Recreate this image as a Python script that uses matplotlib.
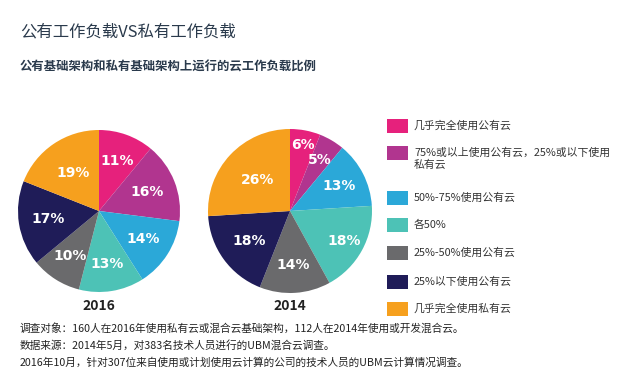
import numpy as np
import matplotlib
matplotlib.use("Agg")
import matplotlib.pyplot as plt

plt.rcParams['font.family'] = ['Noto Sans CJK SC', 'DejaVu Sans']

# data
categories = ["几乎完全使用公有云", "75%或以上使用公有云，25%或以下使用\n私有云", "50%-75%使用公有云",
              "各50%", "25%-50%使用公有云", "25%以下使用公有云", "几乎完全使用私有云"]
colors = ["#E6217C", "#B1358F", "#2BA8D8", "#4DC2B6", "#6A6A6C", "#1F1C58", "#F6A01E"]
vals_2016 = [11, 16, 14, 13, 10, 17, 19]
vals_2014 = [6, 5, 13, 18, 14, 18, 26]
years = ["2016", "2014"]

title = "公有工作负载VS私有工作负载"
subtitle = "公有基础架构和私有基础架构上运行的云工作负载比例"
notes = ["调查对象：160人在2016年使用私有云或混合云基础架构，112人在2014年使用或开发混合云。",
         "数据来源：2014年5月，对383名技术人员进行的UBM混合云调查。",
         "2016年10月，针对307位来自使用或计划使用云计算的公司的技术人员的UBM云计算情况调查。"]

W, H = 640, 388
fig = plt.figure(figsize=(W / 100, H / 100), dpi=100)
ax = fig.add_axes([0, 0, 1, 1])

def draw_pie(vals, cx, cy, r, label_dist):
    ax.pie(vals, colors=colors, startangle=90, counterclock=False,
           center=(cx, H - cy), radius=r, wedgeprops=dict(linewidth=0))
    start = 90.0
    for v, d in zip(vals, label_dist):
        mid = np.deg2rad(start - v * 3.6 / 2)
        start -= v * 3.6
        ax.text(cx + d * r * np.cos(mid), H - cy + d * r * np.sin(mid), f"{v}%",
                ha='center', va='center', color='white', fontsize=10,
                fontweight='bold', family=['Liberation Sans Narrow', 'DejaVu Sans'])

draw_pie(vals_2016, 99, 211, 81, [0.66, 0.64, 0.64, 0.66, 0.66, 0.63, 0.57])
draw_pie(vals_2014, 290, 211, 82, [0.82, 0.72, 0.67, 0.76, 0.66, 0.62, 0.55])

ax.text(99, H - 306, years[0], ha='center', va='center', fontsize=10, fontweight='bold', color='#222222')
ax.text(290, H - 306, years[1], ha='center', va='center', fontsize=10, fontweight='bold', color='#222222')

# legend
leg_y = [126, 153, 198, 225, 253, 282, 309]
for c, lab, y in zip(colors, categories, leg_y):
    ax.add_patch(plt.Rectangle((387, H - y - 7), 21, 14, color=c, lw=0))
    ax.text(414, H - y + 5.5, lab, ha='left', va='top', fontsize=7.8, color='#333333',
            linespacing=1.2)

ax.text(20, H - 32, title, ha='left', va='center', fontsize=11.8, color='#2a3a4c')
ax.text(20, H - 67, subtitle, ha='left', va='center', fontsize=8.9, fontweight='bold', color='#2a3a4c')
for i, n in enumerate(notes):
    ax.text(20, H - 328 - i * 17.5, n, ha='left', va='center', fontsize=7.7, color='#222222')

ax.set_xlim(0, W)
ax.set_ylim(0, H)
ax.set_aspect('auto')
ax.axis('off')
fig.savefig("out.png", dpi=100)
